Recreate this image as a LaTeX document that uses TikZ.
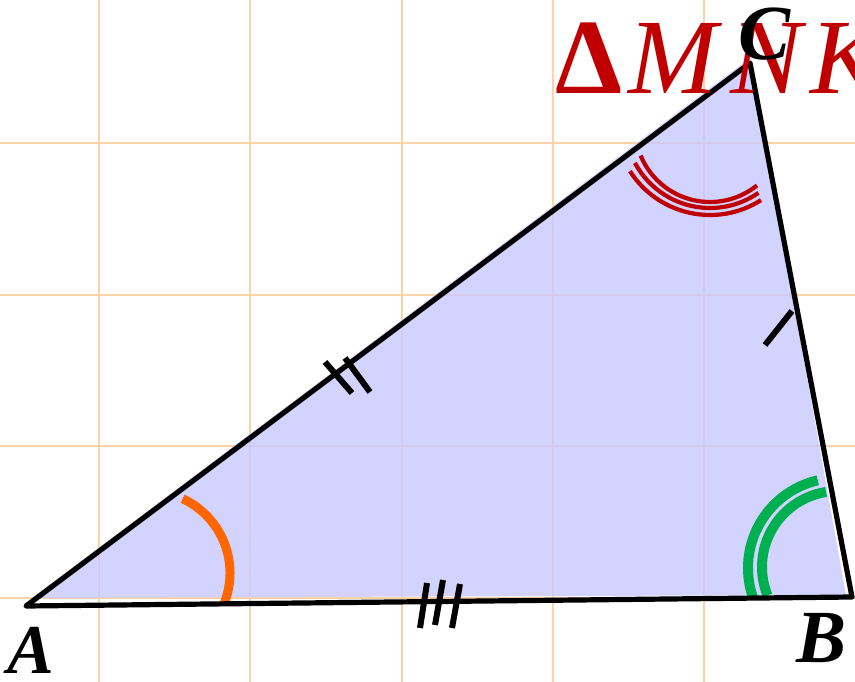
\documentclass[tikz,border=0pt]{standalone}
\usepackage{fontspec}
\setmainfont{Liberation Serif}
\definecolor{gridc}{RGB}{255,210,165}
\definecolor{fillc}{RGB}{200,200,255}
\definecolor{redc}{RGB}{192,0,0}
\definecolor{orangec}{RGB}{255,102,0}
\definecolor{greenc}{RGB}{0,176,80}
\begin{document}
\begin{tikzpicture}[x=1pt,y=-1pt,
  gridline/.style={draw=gridc, line width=2pt},
  side/.style={draw=black, line width=5.2pt, line join=round},
  tickmark/.style={draw=black, line width=6pt},
  redarc/.style={draw=redc, line width=4.2pt},
  greenarc/.style={draw=greenc, line width=10pt},
  orangearc/.style={draw=orangec, line width=9pt},
  vlabel/.style={font=\fontsize{70}{70}\selectfont\bfseries\itshape, inner sep=0pt, anchor=base, text depth=0pt, text height=46pt}]
\useasboundingbox (0,0) rectangle (855,682);
% grid
\foreach \gx in {99,250,401.5,553,704} \draw[gridline] (\gx,0) -- (\gx,682);
\foreach \gy in {143,294.5,446,597.5} \draw[gridline] (0,\gy) -- (855,\gy);
% fill
\fill[fillc, opacity=0.8] (32,598) -- (846,595) -- (750,58) -- cycle;
% vertices
\coordinate (A) at (26,606);
\coordinate (B) at (852,597);
\coordinate (C) at (750,63);
% angle arcs
\draw[orangearc] (148,573) ++(-65:82) arc[start angle=-65, end angle=22, radius=82];
\draw[greenarc] (838,568) ++(-103:90) arc[start angle=-103, end angle=-199, radius=90];
\draw[greenarc] (838,567) ++(-99:76) arc[start angle=-99, end angle=-202, radius=76];
\draw[redarc] (710,127) ++(-202.4:75) arc[start angle=-202.4, end angle=-308.8, radius=75];
\draw[redarc] (710,123) ++(-208:85) arc[start angle=-208, end angle=-304.8, radius=85];
\draw[redarc] (710,120) ++(-212.6:95) arc[start angle=-212.6, end angle=-302.5, radius=95];
% sides
\draw[side] (A) -- (B) -- (C) -- cycle;
% tick marks
\draw[tickmark] (325,362) -- (352,393);
\draw[tickmark] (345,358) -- (370,392);
\draw[tickmark] (427,583) -- (420,628);
\draw[tickmark] (443,580) -- (435,625);
\draw[tickmark] (460,584) -- (452,628);
\draw[tickmark] (765,345) -- (792,311);
% labels
\node[vlabel] (labA) at (31,673) {A};
\node[vlabel, font=\fontsize{75}{75}\selectfont\bfseries\itshape, text height=50pt] (labB) at (822,662) {B};
\node[inner sep=0pt, anchor=base west, text=redc, font=\fontsize{107}{107}\selectfont, text depth=0pt, text height=72pt] (title) at (555,94) {\textbf{Δ}\kern6pt\textit{M}\kern8pt\textit{N}\kern4pt\textit{K}};
\node[vlabel, font=\fontsize{78}{78}\selectfont\bfseries\itshape, text height=53pt] (labC) at (765,60) {C};
\end{tikzpicture}
\end{document}
